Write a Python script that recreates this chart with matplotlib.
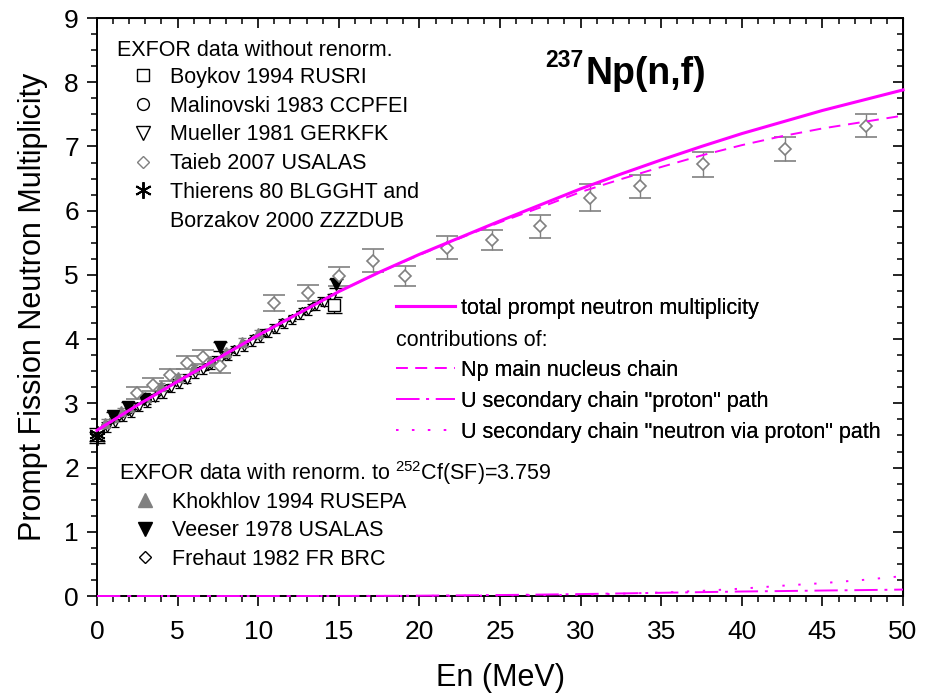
import numpy as np
import matplotlib.pyplot as plt
from matplotlib.lines import Line2D
from matplotlib.ticker import MultipleLocator

plt.rcParams['font.family'] = ['Liberation Sans', 'DejaVu Sans']
plt.rcParams['mathtext.fontset'] = 'custom'
plt.rcParams['mathtext.rm'] = 'Liberation Sans'
plt.rcParams['mathtext.bf'] = 'Liberation Sans:bold'

MAG = '#ff00ff'
GRAY = '#808080'
DASH = (0, (6, 4))
DASHDOT = (0, (12, 3.5, 1.5, 3.5))
DOT = (0, (1.2, 7))

# model curves (En in MeV)
e_model = [0, 2.5, 5, 7.5, 10, 12.5, 15, 17.5, 20, 22.5, 25, 27.5, 30,
           32.5, 35, 37.5, 40, 42.5, 45, 47.5, 50]
nu_total = [2.58, 2.97, 3.34, 3.70, 4.06, 4.40, 4.74, 5.04, 5.32, 5.58, 5.84,
            6.09, 6.34, 6.57, 6.79, 7.00, 7.20, 7.38, 7.56, 7.72, 7.88]
nu_np = [2.58, 2.97, 3.34, 3.70, 4.06, 4.40, 4.74, 5.04, 5.31, 5.57, 5.82,
         6.05, 6.29, 6.49, 6.68, 6.86, 7.02, 7.16, 7.28, 7.38, 7.48]
nu_u_proton = [0, 0, 0, 0, 0, 0, 0.001, 0.002, 0.005, 0.01, 0.015, 0.022,
               0.03, 0.04, 0.05, 0.06, 0.07, 0.077, 0.085, 0.092, 0.10]
nu_u_neutron = [0, 0, 0, 0, 0, 0, 0, 0.001, 0.002, 0.004, 0.008, 0.013,
                0.02, 0.035, 0.055, 0.08, 0.115, 0.16, 0.20, 0.25, 0.31]

# EXFOR data without renormalisation
boykov_e = [14.7]
boykov_nu = [4.53]
boykov_err = [0.13]

malinovski_e = [0.5, 1.0, 1.5, 2.0]
malinovski_nu = [2.66, 2.75, 2.83, 2.90]
malinovski_err = [0.05, 0.05, 0.05, 0.05]

mueller_e = [0.6, 1.1, 1.6, 2.1, 2.6, 3.1, 3.6, 4.1, 4.6, 5.1, 5.6, 6.1, 6.6,
             7.1, 7.6, 8.1, 8.6, 9.1, 9.6, 10.1, 10.6, 11.1, 11.6, 12.1,
             12.6, 13.1, 13.6, 14.1, 14.6]
mueller_nu = [2.62, 2.69, 2.78, 2.85, 2.94, 3.00, 3.09, 3.15, 3.24, 3.30,
              3.37, 3.46, 3.52, 3.60, 3.66, 3.73, 3.81, 3.88, 3.96, 4.02,
              4.10, 4.16, 4.24, 4.30, 4.37, 4.43, 4.51, 4.57, 4.64]
mueller_err = [0.06] * len(mueller_e)

taieb_e = [2.5, 3.5, 4.5, 5.6, 6.6, 7.6, 11.0, 13.1, 15.0, 17.1, 19.1, 21.7,
           24.5, 27.5, 30.6, 33.7, 37.6, 42.7, 47.7]
taieb_nu = [3.16, 3.29, 3.44, 3.63, 3.72, 3.58, 4.56, 4.72, 4.98, 5.22, 4.98,
            5.42, 5.54, 5.76, 6.20, 6.38, 6.72, 6.96, 7.32]
taieb_err = [0.10, 0.10, 0.10, 0.10, 0.11, 0.11, 0.12, 0.13, 0.15, 0.18,
             0.16, 0.18, 0.16, 0.18, 0.21, 0.18, 0.20, 0.18, 0.18]

thierens_e = [0.0]
thierens_nu = [2.52]
thierens_err = [0.10]
borzakov_e = [0.0]
borzakov_nu = [2.47]
borzakov_err = [0.08]

# EXFOR data renormalised to 252Cf(SF)
khokhlov_e = [0.5, 1.0, 1.5, 2.0, 3.0, 4.0, 5.0, 6.0, 7.0, 8.0, 9.0, 10.0]
khokhlov_nu = [2.70, 2.79, 2.88, 2.95, 3.10, 3.27, 3.41, 3.55, 3.66, 3.80,
               3.96, 4.09]
khokhlov_err = [0.05] * len(khokhlov_e)

veeser_e = [1.0, 1.9, 2.9, 7.6, 14.8]
veeser_nu = [2.80, 2.95, 3.06, 3.88, 4.86]
veeser_err = [0.07] * len(veeser_e)

frehaut_e = [1.3, 1.9, 2.5, 3.1, 3.7, 4.3, 4.9, 5.5, 6.1, 6.7, 7.3, 7.9, 8.5,
             9.1, 9.7, 10.3, 10.9, 11.5, 12.1, 12.7, 13.3, 13.9, 14.5]
frehaut_nu = [2.78, 2.88, 2.96, 3.07, 3.14, 3.24, 3.33, 3.40, 3.51, 3.57,
              3.68, 3.75, 3.85, 3.92, 4.01, 4.10, 4.18, 4.26, 4.33, 4.44,
              4.50, 4.60, 4.66]
frehaut_err = [0.05] * len(frehaut_e)

W, H = 934, 697
L, R, T, B = 97, 903, 18, 596
fig = plt.figure(figsize=(W / 100, H / 100), dpi=100)
ax = fig.add_axes([L / W, (H - B) / H, (R - L) / W, (B - T) / H])


def axc(px, py):
    # pixel position in the picture -> axes fraction
    return (px - L) / (R - L), (B - py) / (B - T)


# data points
ax.errorbar(frehaut_e, frehaut_nu, yerr=frehaut_err, fmt='D', ms=4.5, mfc='white',
            mec='k', mew=0.9, ecolor='k', elinewidth=0.8, capsize=3, zorder=3)
ax.errorbar(mueller_e, mueller_nu, yerr=mueller_err, fmt='v', ms=6, mfc='white',
            mec='k', mew=0.9, ecolor='k', elinewidth=0.8, capsize=3, zorder=3)
ax.errorbar(malinovski_e, malinovski_nu, yerr=malinovski_err, fmt='o', ms=5,
            mfc='white', mec='k', mew=0.9, ecolor='k', elinewidth=0.8, capsize=3,
            zorder=3)
ax.errorbar(khokhlov_e, khokhlov_nu, yerr=khokhlov_err, fmt='^', ms=6.5, mfc=GRAY,
            mec=GRAY, ecolor=GRAY, elinewidth=0.8, capsize=3, zorder=3)
ax.errorbar(veeser_e, veeser_nu, yerr=veeser_err, fmt='v', ms=8, mfc='k', mec='k',
            ecolor='k', elinewidth=0.8, capsize=5, zorder=3)
ax.errorbar(taieb_e, taieb_nu, yerr=taieb_err, fmt='D', ms=6.5, mfc='white',
            mec=GRAY, mew=1.2, ecolor=GRAY, elinewidth=1.0, capsize=8, zorder=3)
ax.errorbar(boykov_e, boykov_nu, yerr=boykov_err, fmt='s', ms=9, mfc='white',
            mec='k', mew=1.0, ecolor='k', elinewidth=0.9, capsize=6, zorder=3)
ax.errorbar(thierens_e, thierens_nu, yerr=thierens_err, fmt='none', ecolor='k',
            elinewidth=0.9, capsize=6, zorder=3, clip_on=False)
ax.plot(thierens_e, thierens_nu, ls='none', marker=(6, 2, 0), ms=12, mec='k',
        mew=1.3, zorder=4, clip_on=False)
ax.errorbar(borzakov_e, borzakov_nu, yerr=borzakov_err, fmt='none', ecolor='k',
            elinewidth=0.9, capsize=6, zorder=3, clip_on=False)
ax.plot(borzakov_e, borzakov_nu, ls='none', marker=(6, 2, 0), ms=12, mec='k',
        mew=1.3, zorder=4, clip_on=False)

# model curves
ax.plot(e_model, nu_total, color=MAG, lw=2.2, zorder=6, clip_on=False)
ax.plot(e_model, nu_np, color=MAG, lw=1.4, ls=DASH, zorder=6)
ax.plot(e_model, nu_u_proton, color=MAG, lw=1.4, ls=DASHDOT, zorder=6, clip_on=False)
ax.plot(e_model, nu_u_neutron, color=MAG, lw=1.4, ls=DOT, zorder=6, clip_on=False)

ax.set_xlim(0, 50)
ax.set_ylim(0, 9)
ax.xaxis.set_major_locator(MultipleLocator(5))
ax.xaxis.set_minor_locator(MultipleLocator(1))
ax.yaxis.set_major_locator(MultipleLocator(1))
ax.yaxis.set_minor_locator(MultipleLocator(0.25))
ax.tick_params(which='major', direction='out', length=7, width=1.2, labelsize=19)
ax.tick_params(which='minor', direction='out', length=4.5, width=1.1)
ax.tick_params(axis='x', which='major', pad=10)
ax.tick_params(axis='y', which='major', pad=6)
for s in ax.spines.values():
    s.set_linewidth(1.4)

top = ax.secondary_xaxis('top')
top.xaxis.set_major_locator(MultipleLocator(5))
top.xaxis.set_minor_locator(MultipleLocator(1))
top.tick_params(which='major', direction='in', length=7, width=1.2, labeltop=False)
top.tick_params(which='minor', direction='in', length=4.5, width=1.1)
right = ax.secondary_yaxis('right')
right.yaxis.set_major_locator(MultipleLocator(1))
right.yaxis.set_minor_locator(MultipleLocator(0.25))
right.tick_params(which='major', direction='in', length=7, width=1.2, labelright=False)
right.tick_params(which='minor', direction='in', length=4.5, width=1.1)

ax.set_xlabel('En (MeV)', fontsize=22, labelpad=14)
ax.set_ylabel('Prompt Fission Neutron Multiplicity', fontsize=22, labelpad=12)

# reaction label: mass number as a smaller raised text
ax.text(*axc(545, 67), '237', transform=ax.transAxes, fontsize=16.5,
        fontweight='bold', ha='left', va='baseline')
ax.text(*axc(585, 84), 'Np(n,f)', transform=ax.transAxes, fontsize=27,
        fontweight='bold', ha='left', va='baseline')

LFS = 15.5
legend_kw = dict(frameon=False, fontsize=LFS, loc='upper left', borderpad=0,
                 borderaxespad=0, handlelength=1.0, handletextpad=0.75,
                 labelspacing=0.36, numpoints=1)


def mk(marker, ms, mfc, mec, mew=1.0):
    return Line2D([], [], ls='none', marker=marker, ms=ms, mfc=mfc, mec=mec, mew=mew)


# legend: data without renormalisation
ax.text(*axc(117, 50), 'EXFOR data without renorm.', transform=ax.transAxes,
        fontsize=LFS, ha='left', va='center')
h1 = [mk('s', 9, 'white', 'k'), mk('o', 8.5, 'white', 'k'), mk('v', 10, 'white', 'k'),
      mk('D', 6, 'white', GRAY), mk((6, 2, 0), 12, 'k', 'k', 1.4),
      Line2D([], [], ls='none')]
l1 = ['Boykov 1994 RUSRI', 'Malinovski 1983 CCPFEI', 'Mueller 1981 GERKFK',
      'Taieb 2007 USALAS', 'Thierens 80 BLGGHT and', 'Borzakov 2000 ZZZDUB']
leg1 = ax.legend(h1, l1, bbox_to_anchor=axc(132, 67), **legend_kw)
ax.add_artist(leg1)

# legend: renormalised data
ax.text(*axc(119, 473), r'EXFOR data with renorm. to $^{252}$Cf(SF)=3.759',
        transform=ax.transAxes, fontsize=LFS, ha='left', va='center')
h2 = [mk('^', 10, GRAY, GRAY), mk('v', 10, 'k', 'k'), mk('D', 6.5, 'white', 'k')]
l2 = ['Khokhlov 1994 RUSEPA', 'Veeser 1978 USALAS', 'Frehaut 1982 FR BRC']
kw2 = dict(legend_kw)
kw2.update(labelspacing=0.34)
leg2 = ax.legend(h2, l2, bbox_to_anchor=axc(134, 492), **kw2)
ax.add_artist(leg2)

# legend: model curves
h3 = [Line2D([], [], color=MAG, lw=2.2),
      Line2D([], [], ls='none'),
      Line2D([], [], color=MAG, lw=1.4, ls=DASH),
      Line2D([], [], color=MAG, lw=1.4, ls=DASHDOT),
      Line2D([], [], color=MAG, lw=1.4, ls=DOT)]
l3 = ['total prompt neutron multiplicity', ' ', 'Np main nucleus chain',
      'U secondary chain "proton" path',
      'U secondary chain "neutron via proton" path']
kw3 = dict(legend_kw)
kw3.update(handlelength=2.75, handletextpad=0.25, labelspacing=0.46)
leg3 = ax.legend(h3, l3, bbox_to_anchor=axc(396, 298), **kw3)
ax.add_artist(leg3)
ax.text(*axc(396, 340), 'contributions of:', transform=ax.transAxes,
        fontsize=LFS, ha='left', va='center')

fig.savefig('out.png', dpi=100)
